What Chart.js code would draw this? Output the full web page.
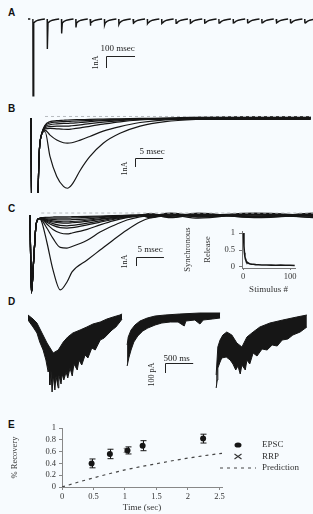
<!DOCTYPE html>
<html>
<head>
<meta charset="utf-8">
<script src="https://cdn.jsdelivr.net/npm/chart.js@4.4.0/dist/chart.umd.min.js"></script>
<style>
  body { margin: 0; background: #f7fbfe; width: 313px; height: 514px; overflow: hidden; position: relative; }
  canvas { position: absolute; }
  .tag { position: absolute; left: 8px; font: bold 10px "Liberation Sans", Arial, sans-serif; color: #111; line-height: 1; }
</style>
</head>
<body>
<div class="tag" style="top:8px">A</div>
<div class="tag" style="top:104px">B</div>
<div class="tag" style="top:204px">C</div>
<div class="tag" style="top:297px">D</div>
<div class="tag" style="top:420px">E</div>
<canvas id="chartA" width="285" height="84" style="left:28px;top:14px"></canvas>
<canvas id="chartB" width="285" height="80" style="left:28px;top:113px"></canvas>
<canvas id="chartC" width="285" height="85" style="left:28px;top:210px"></canvas>
<canvas id="chartInset" width="127" height="76" style="left:178px;top:222px"></canvas>
<canvas id="chartD" width="282" height="95" style="left:28px;top:305px"></canvas>
<canvas id="chartE" width="313" height="99" style="left:0px;top:415px"></canvas>
<script>
// ---- A: train of EPSCs (stimulus times in ms, peak amplitude in nA)
const aStimMs = [17, 67, 117, 167, 217, 267, 317, 367, 417, 467, 517, 567, 617, 667, 717, 767, 817, 867, 917, 967];
const aPeakNa = [6.4, 2.5, 1.2, 0.7, 0.55, 0.5, 0.45, 0.42, 0.4, 0.38, 0.36, 0.35, 0.34, 0.33, 0.33, 0.32, 0.32, 0.31, 0.31, 0.3];
// slow tail after each response (ms after stimulus, nA)
const aTailMs = [3, 9, 18, 30, 42];
const aTailNa = [-0.32, -0.2, -0.1, -0.04, 0];

// ---- B: single traces (ms, nA)
const bTimeMs = [0, 0.1, 1.1, 1.5, 1.9, 2.5, 3.4, 4.6, 5.8, 6.5, 7.3, 8.8, 10.5, 12.9, 15.9, 19.5, 24, 30, 38, 50];
const bTrace1 = [0, -10, -10, -3.5, -1.8, -1.5, -4.3, -6.5, -7.6, -7.8, -7.4, -5.8, -4.3, -2.8, -1.7, -0.9, -0.4, -0.15, -0.05, 0];
const bTrace2 = [0, -10, -10, -3.5, -1.8, -1.35, -1.9, -2.45, -2.75, -2.8, -2.75, -2.45, -2.05, -1.45, -0.95, -0.5, -0.2, -0.08, -0.05, -0.05];
const bTrace3 = [0, -10, -10, -3.5, -1.8, -1.2, -1.15, -1.2, -1.25, -1.26, -1.22, -1.1, -0.92, -0.68, -0.42, -0.22, -0.08, 0.05, 0.08, 0.08];
const bTrace4 = [0, -10, -10, -3.5, -1.8, -1.1, -0.95, -0.9, -0.9, -0.9, -0.86, -0.76, -0.62, -0.46, -0.3, -0.16, -0.12, -0.15, -0.15, -0.15];
const bTrace5 = [0, -10, -10, -3.5, -1.8, -1.0, -0.75, -0.65, -0.6, -0.6, -0.56, -0.5, -0.4, -0.3, -0.2, -0.1, -0.03, 0.02, 0.03, 0.03];
const bTrace6 = [0, -10, -10, -3.5, -1.8, -0.9, -0.55, -0.45, -0.4, -0.38, -0.36, -0.32, -0.27, -0.2, -0.15, -0.12, -0.1, -0.1, -0.1, -0.1];
const bTrace7 = [0, -10, -10, -3.5, -1.8, -0.8, -0.4, -0.3, -0.25, -0.22, -0.2, -0.18, -0.15, -0.12, -0.08, -0.04, 0, 0.1, 0.12, 0.12];

// ---- C: traces (ms, nA); the synchronous part is shared
const cTimeMs = [0, 0.25, 0.7, 1.1, 1.6, 2.0, 3.0, 4.1, 5.4, 6.6, 7.5, 10.2, 12.5, 14.8, 17.3, 19.6, 21.4, 25, 30, 40, 50.5];
const cSyncNa = [0, -8.65, -4.5, -1.0, -0.4];
const cTrace1 = [-0.6, -3.0, -6.1, -8.33, -7.44, -6.33, -5.0, -3.9, -2.8, -1.67, -0.78, -0.33, -0.1, 0.05, -0.1, 0.1];
const cTrace2 = [-0.5, -1.44, -2.6, -3.6, -3.67, -3.5, -2.8, -1.9, -1.2, -0.56, -0.2, -0.08, 0.1, -0.2, 0.05, -0.15];
const cTrace3 = [-0.45, -1.0, -1.6, -2.0, -2.1, -2.0, -1.6, -1.1, -0.65, -0.3, -0.1, 0, -0.25, 0.1, -0.25, 0];
const cTrace4 = [-0.42, -0.8, -1.15, -1.4, -1.45, -1.4, -1.1, -0.8, -0.5, -0.25, -0.08, -0.15, 0.15, -0.1, 0.1, -0.3];
const cTrace5 = [-0.4, -0.7, -0.95, -1.15, -1.2, -1.15, -0.9, -0.65, -0.4, -0.2, -0.05, 0.1, -0.3, 0.05, -0.2, 0.12];
const cTrace6 = [-0.38, -0.6, -0.78, -0.88, -0.9, -0.86, -0.7, -0.5, -0.3, -0.15, -0.05, -0.2, 0, -0.35, 0.15, -0.1];
const cTrace7 = [-0.36, -0.52, -0.65, -0.73, -0.75, -0.72, -0.58, -0.42, -0.26, -0.12, -0.03, 0.05, -0.15, 0.2, -0.3, 0.05];
const cTrace8 = [-0.34, -0.44, -0.5, -0.55, -0.55, -0.52, -0.42, -0.3, -0.18, -0.08, -0.02, -0.3, 0.12, -0.2, 0, -0.25];
const cTrace9 = [-0.32, -0.33, -0.34, -0.35, -0.35, -0.33, -0.27, -0.2, -0.12, -0.05, 0, 0.15, -0.1, 0.1, -0.15, 0.2];
const cTrace10 = [-0.3, -0.25, -0.22, -0.2, -0.2, -0.19, -0.16, -0.12, -0.07, -0.03, 0, -0.1, 0.2, -0.05, 0.2, -0.05];

// ---- C inset: synchronous release vs stimulus number
const insetStim = [1, 2, 3, 4, 5, 6, 7, 8, 10, 12, 15, 18, 22, 27, 33, 40, 50, 60, 70, 80, 90, 100, 110];
const insetRelease = [1.0, 0.62, 0.42, 0.31, 0.24, 0.2, 0.17, 0.15, 0.13, 0.11, 0.09, 0.085, 0.08, 0.07, 0.065, 0.06, 0.06, 0.055, 0.05, 0.055, 0.05, 0.05, 0.045];
const insetXTicks = [0, 100];
const insetYTicks = [0, 0.5, 1];

// ---- D: three noisy recordings, upper and lower edge of the trace (s, pA)
const dUp1T = [0.00, 0.09, 0.16, 0.25, 0.34, 0.45, 0.54, 0.63, 0.71, 0.80, 0.93, 1.05, 1.16, 1.29, 1.41, 1.52, 1.64, 1.68];
const dUp1V = [-50, -90, -130, -230, -330, -430, -400, -320, -270, -230, -200, -170, -140, -120, -90, -70, -50, -40];
const dLo1T = [0.00, 0.09, 0.16, 0.21, 0.27, 0.32, 0.36, 0.38, 0.39, 0.41, 0.43, 0.45, 0.48, 0.50, 0.54, 0.55, 0.59, 0.61, 0.64, 0.68, 0.71, 0.75, 0.79, 0.82, 0.88, 0.91, 0.96, 1.02, 1.07, 1.14, 1.20, 1.29, 1.36, 1.43, 1.50, 1.57, 1.64, 1.68];
const dLo1V = [-100, -170, -230, -320, -400, -500, -620, -560, -750, -600, -820, -650, -800, -660, -780, -650, -740, -640, -700, -620, -680, -580, -660, -540, -600, -500, -550, -450, -480, -380, -400, -300, -280, -240, -200, -170, -120, -90];
const dUp2T = [1.77, 1.79, 1.84, 1.91, 2.00, 2.13, 2.27, 2.45, 2.71, 3.07, 3.43];
const dUp2V = [-350, -270, -200, -150, -110, -80, -60, -50, -40, -30, -30];
const dLo2T = [1.77, 1.80, 1.84, 1.89, 1.96, 2.05, 2.14, 2.27, 2.39, 2.54, 2.68, 2.79, 2.82, 2.98, 3.07, 3.13, 3.29, 3.43];
const dLo2V = [-560, -480, -400, -320, -260, -210, -180, -150, -130, -120, -120, -160, -110, -100, -140, -100, -90, -80];
const dUp3T = [3.36, 3.39, 3.43, 3.48, 3.55, 3.64, 3.73, 3.82, 3.91, 4.02, 4.14, 4.32, 4.55, 4.80, 4.98];
const dUp3V = [-650, -370, -300, -250, -220, -250, -330, -370, -270, -220, -170, -130, -100, -70, -50];
const dLo3T = [3.36, 3.38, 3.39, 3.43, 3.46, 3.54, 3.61, 3.66, 3.71, 3.75, 3.79, 3.82, 3.88, 3.91, 3.96, 4.02, 4.09, 4.18, 4.27, 4.36, 4.45, 4.54, 4.64, 4.73, 4.86, 4.98];
const dLo3V = [-780, -700, -580, -520, -480, -470, -500, -540, -600, -560, -640, -550, -600, -500, -540, -430, -460, -390, -400, -350, -360, -300, -290, -250, -220, -170];

// ---- E: recovery
const epscTime = [0.47, 0.76, 1.04, 1.28, 2.24];
const epscRecovery = [0.40, 0.56, 0.62, 0.70, 0.82];
const epscErr = [0.075, 0.08, 0.06, 0.085, 0.075];
const rrpTime = [1.02];
const rrpRecovery = [0.62];
const predTime = [0, 0.25, 0.5, 0.75, 1, 1.25, 1.5, 1.75, 2, 2.25, 2.5, 2.56];
const predRecovery = [0, 0.08, 0.155, 0.225, 0.29, 0.345, 0.395, 0.445, 0.49, 0.53, 0.565, 0.575];
const eXTicks = [0, 0.5, 1, 1.5, 2, 2.5];
const eYTicks = [0, 0.2, 0.4, 0.6, 0.8, 1];

const SERIF = '"Liberation Serif", "Times New Roman", serif';
const serif = (size, lineHeight) => ({ family: SERIF, size: size, lineHeight: lineHeight || 1.2 });
const ink = '#161616';
const pts = (xs, ys) => xs.map((x, i) => ({ x: x, y: ys[i] }));

// scale bar drawn in data units of the chart
const scaleBarPlugin = {
  id: 'scaleBar',
  afterDatasetsDraw(chart, args, o) {
    const xs = chart.scales.x, ys = chart.scales.y, ctx = chart.ctx;
    const x0 = Math.round(xs.getPixelForValue(o.x)) + 0.5;
    const y0 = Math.round(ys.getPixelForValue(o.y)) + 0.5;
    const x1 = xs.getPixelForValue(o.x + o.dx);
    const y1 = ys.getPixelForValue(o.y - o.dy);
    ctx.save();
    ctx.strokeStyle = '#222';
    ctx.lineWidth = 1;
    ctx.beginPath();
    ctx.moveTo(x1, y0);
    ctx.lineTo(x0, y0);
    ctx.lineTo(x0, y1);
    ctx.stroke();
    ctx.fillStyle = '#222';
    ctx.font = '9px ' + SERIF;
    ctx.fillText(o.xText, x0 + o.xTextDx, y0 + o.xTextDy);
    ctx.translate(x0 + o.yTextDx, y0 + o.yTextDy);
    ctx.rotate(-Math.PI / 2);
    ctx.textAlign = 'center';
    ctx.textBaseline = 'middle';
    ctx.font = '8px ' + SERIF;
    ctx.fillText(o.yText, 0, 0);
    ctx.restore();
  }
};

function traceOptions(xMin, xMax, yMin, yMax, bar) {
  return {
    responsive: false, animation: false, events: [],
    layout: { padding: 0 },
    plugins: { legend: { display: false }, tooltip: { enabled: false }, scaleBar: bar },
    scales: {
      x: { type: 'linear', display: false, min: xMin, max: xMax },
      y: { display: false, min: yMin, max: yMax }
    }
  };
}

// ---- A
const aTrace = [{ x: 0, y: 0 }, { x: 8, y: 0 }, { x: 12, y: null }];
aStimMs.forEach((t, i) => {
  aTrace.push({ x: t, y: 0 }, { x: t + 0.6, y: -aPeakNa[i] });
  aTailMs.forEach((dt, k) => aTrace.push({ x: t + dt, y: aTailNa[k] }));
  aTrace.push({ x: t + 46, y: null });
});
new Chart(document.getElementById('chartA'), {
  type: 'line',
  data: { datasets: [{ data: aTrace, borderColor: ink, borderWidth: 1.4, pointRadius: 0, spanGaps: false }] },
  options: traceOptions(0, 996, -6.58, 0.42,
    { x: 274, y: -3.08, dx: 100, dy: 1, xText: '100 msec', xTextDx: -6, xTextDy: -6, yText: '1nA', yTextDx: -11, yTextDy: 6 }),
  plugins: [scaleBarPlugin]
});

// ---- B
const bTraces = [bTrace1, bTrace2, bTrace3, bTrace4, bTrace5, bTrace6, bTrace7];
const bSets = bTraces.map(tr => ({
  data: pts(bTimeMs, tr), borderColor: ink, borderWidth: 1.2, pointRadius: 0, cubicInterpolationMode: 'monotone'
}));
bSets.unshift({ data: pts([2.5, 50], [0.17, 0.17]), borderColor: '#b8bcc0', borderWidth: 1, borderDash: [3, 3], pointRadius: 0 });
new Chart(document.getElementById('chartB'), {
  type: 'line',
  data: { datasets: bSets },
  options: traceOptions(-0.54, 50.4, -8.33, 0.556,
    { x: 18.6, y: -4.44, dx: 5, dy: 1, xText: '5 msec', xTextDx: 4, xTextDy: -5, yText: '1nA', yTextDx: -11, yTextDy: 10 }),
  plugins: [scaleBarPlugin]
});

// ---- C
const cTraces = [cTrace1, cTrace2, cTrace3, cTrace4, cTrace5, cTrace6, cTrace7, cTrace8, cTrace9, cTrace10];
const cSets = cTraces.map(tr => ({
  data: pts(cTimeMs, cSyncNa.concat(tr)), borderColor: ink, borderWidth: 1.2, pointRadius: 0, cubicInterpolationMode: 'monotone'
}));
cSets.unshift({ data: pts([2, 50.5], [0.22, 0.22]), borderColor: '#b8bcc0', borderWidth: 1, borderDash: [3, 3], pointRadius: 0 });
new Chart(document.getElementById('chartC'), {
  type: 'line',
  data: { datasets: cSets },
  options: traceOptions(-0.36, 50.5, -8.89, 0.556,
    { x: 18.9, y: -4.67, dx: 5, dy: 1, xText: '5 msec', xTextDx: 1, xTextDy: -6, yText: '1nA', yTextDx: -12, yTextDy: 4 }),
  plugins: [scaleBarPlugin]
});

// ---- C inset
new Chart(document.getElementById('chartInset'), {
  type: 'scatter',
  data: { datasets: [{ data: pts(insetStim, insetRelease), showLine: true, borderColor: ink, borderWidth: 1.6, pointRadius: 0 }] },
  options: {
    responsive: false, animation: false, events: [],
    layout: { padding: { left: 0, right: 10, top: 9, bottom: 0 } },
    plugins: { legend: { display: false }, tooltip: { enabled: false } },
    scales: {
      x: {
        type: 'linear', min: -2.13, max: 110.6,
        afterBuildTicks: s => { s.ticks = insetXTicks.map(v => ({ value: v })); },
        afterFit: s => { s.height = 30; },
        grid: { drawOnChartArea: false, tickLength: 2, color: '#777' },
        border: { color: '#777' },
        ticks: { font: serif(8.5), color: '#333', padding: 2, maxRotation: 0, autoSkip: false, callback: v => String(v) },
        title: { display: true, text: 'Stimulus #', font: serif(9), color: '#333', padding: { top: 0, bottom: 3 } }
      },
      y: {
        min: -0.03, max: 1.059,
        afterBuildTicks: s => { s.ticks = insetYTicks.map(v => ({ value: v })); },
        afterFit: s => { s.width = 64; },
        grid: { drawOnChartArea: false, tickLength: 3, color: '#777' },
        border: { color: '#777' },
        ticks: { font: serif(8.5), color: '#333', padding: 4, autoSkip: false, callback: v => String(v) },
        title: { display: true, text: ['Synchronous', 'Release'], font: serif(8.5, 2.35), color: '#333', padding: { top: 0 } }
      }
    }
  }
});

// ---- D
const band = (upT, upV, loT, loV) => [
  { data: pts(upT, upV), borderColor: ink, borderWidth: 1, backgroundColor: ink, fill: '+1', pointRadius: 0 },
  { data: pts(loT, loV), borderColor: ink, borderWidth: 1, fill: false, pointRadius: 0 }
];
new Chart(document.getElementById('chartD'), {
  type: 'line',
  data: { datasets: [].concat(band(dUp1T, dUp1V, dLo1T, dLo1V), band(dUp2T, dUp2V, dLo2T, dLo2V), band(dUp3T, dUp3V, dLo3T, dLo3V)) },
  options: traceOptions(0, 5.036, -900, 50,
    { x: 2.45, y: -530, dx: 0.5, dy: 100, xText: '500 ms', xTextDx: -2, xTextDy: -3, yText: '100 pA', yTextDx: -14, yTextDy: 11 }),
  plugins: [scaleBarPlugin]
});

// ---- E
const errorBarPlugin = {
  id: 'errorBars',
  afterDatasetsDraw(chart) {
    const meta = chart.getDatasetMeta(0), ys = chart.scales.y, ctx = chart.ctx;
    ctx.save();
    ctx.strokeStyle = ink;
    ctx.lineWidth = 1;
    meta.data.forEach((p, i) => {
      const top = ys.getPixelForValue(epscRecovery[i] + epscErr[i]);
      const bot = ys.getPixelForValue(epscRecovery[i] - epscErr[i]);
      const x = Math.round(p.x) + 0.5;
      ctx.beginPath();
      ctx.moveTo(x, top); ctx.lineTo(x, bot);
      ctx.moveTo(x - 3, top); ctx.lineTo(x + 3, top);
      ctx.moveTo(x - 3, bot); ctx.lineTo(x + 3, bot);
      ctx.stroke();
    });
    ctx.restore();
  }
};
const eLegendPlugin = {
  id: 'eLegend',
  afterDraw(chart, args, o) {
    const ctx = chart.ctx;
    ctx.save();
    ctx.textBaseline = 'middle';
    ctx.font = '9px ' + SERIF;
    chart.data.datasets.forEach((ds, i) => {
      const y = o.top + i * o.rowGap;
      if (i === 0) {
        ctx.fillStyle = ink;
        ctx.beginPath();
        ctx.ellipse(o.markX, y, 3.5, 2.6, 0, 0, 2 * Math.PI);
        ctx.fill();
      } else if (i === 1) {
        ctx.strokeStyle = '#333';
        ctx.lineWidth = 1.1;
        ctx.beginPath();
        ctx.moveTo(o.markX - 3.5, y - 2.5); ctx.lineTo(o.markX + 3.5, y + 2.5);
        ctx.moveTo(o.markX - 3.5, y + 2.5); ctx.lineTo(o.markX + 3.5, y - 2.5);
        ctx.stroke();
      } else {
        ctx.strokeStyle = '#444';
        ctx.lineWidth = 1.2;
        ctx.setLineDash([3, 4]);
        ctx.beginPath();
        ctx.moveTo(o.dashX0, y); ctx.lineTo(o.dashX1, y);
        ctx.stroke();
        ctx.setLineDash([]);
      }
      ctx.fillStyle = '#333';
      ctx.fillText(ds.label, o.textX, y);
    });
    ctx.restore();
  }
};
new Chart(document.getElementById('chartE'), {
  type: 'scatter',
  data: {
    datasets: [
      { label: 'EPSC', data: pts(epscTime, epscRecovery), pointStyle: 'circle', pointRadius: 3, backgroundColor: ink, borderColor: ink, borderWidth: 0 },
      { label: 'RRP', data: pts(rrpTime, rrpRecovery), pointStyle: 'crossRot', pointRadius: 3.5, borderColor: '#888', borderWidth: 1.2 },
      { label: 'Prediction', data: pts(predTime, predRecovery), showLine: true, borderColor: '#444', borderWidth: 1.2, borderDash: [3, 4], pointRadius: 0 }
    ]
  },
  options: {
    responsive: false, animation: false, events: [],
    layout: { padding: { left: 0, right: 91, top: 13, bottom: 0 } },
    plugins: {
      legend: { display: false }, tooltip: { enabled: false },
      eLegend: { top: 30, rowGap: 11.5, markX: 238, textX: 262, dashX0: 220, dashX1: 256 }
    },
    scales: {
      x: {
        type: 'linear', min: 0, max: 2.54,
        afterBuildTicks: s => { s.ticks = eXTicks.map(v => ({ value: v })); },
        afterFit: s => { s.height = 27; },
        grid: { drawOnChartArea: false, tickLength: 3, color: '#888' },
        border: { color: '#888' },
        ticks: { font: serif(8.5), color: '#333', padding: 2, maxRotation: 0, autoSkip: false, callback: v => String(v) },
        title: { display: true, text: 'Time (sec)', font: serif(9), color: '#333', padding: { top: 0, bottom: 1 } }
      },
      y: {
        min: 0, max: 1,
        afterBuildTicks: s => { s.ticks = eYTicks.map(v => ({ value: v })); },
        afterFit: s => { s.width = 62; },
        grid: { drawOnChartArea: false, tickLength: 3, color: '#888' },
        border: { color: '#888' },
        ticks: { font: serif(8.5), color: '#333', padding: 3, autoSkip: false, callback: v => String(v) },
        title: { display: true, text: '% Recovery', font: serif(8.5), color: '#333', padding: { top: 10 } }
      }
    }
  },
  plugins: [errorBarPlugin, eLegendPlugin]
});
</script>
</body>
</html>
